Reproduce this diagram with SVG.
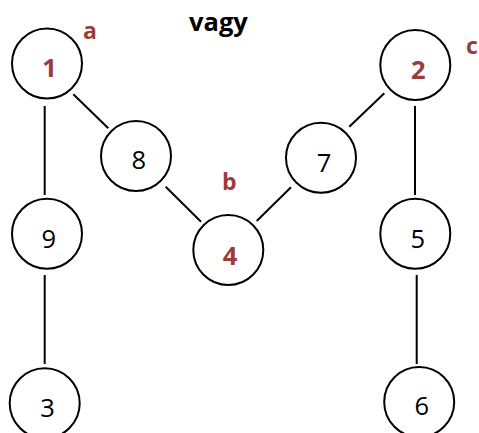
<svg xmlns="http://www.w3.org/2000/svg" width="479" height="433" viewBox="0 0 479 433">
<style>
.n{fill:#fff;stroke:#000;stroke-width:2}
.e{stroke:#000;stroke-width:2;fill:none}
.t{font-family:"Open Sans","Liberation Sans",sans-serif;font-size:25.5px;text-anchor:middle;fill:#000}
.r{font-family:"Open Sans","Liberation Sans",sans-serif;font-size:25.5px;font-weight:bold;text-anchor:middle;fill:#9C3B3B}
.l{font-family:"Open Sans","Liberation Sans",sans-serif;font-size:23px;font-weight:bold;fill:#9C3B3B}
.h{font-family:"Open Sans","Liberation Sans",sans-serif;font-size:25.5px;font-weight:bold;fill:#000}
</style>
<rect width="479" height="433" fill="#fff"/>
<g id="connectors">
<line class="e" x1="73.3" y1="94.3" x2="108.3" y2="128.3"/>
<line class="e" x1="44.7" y1="106" x2="44.7" y2="195"/>
<line class="e" x1="44.7" y1="275" x2="44.7" y2="364"/>
<line class="e" x1="165.7" y1="186.7" x2="201" y2="221.7"/>
<line class="e" x1="291" y1="187.3" x2="256.7" y2="221"/>
<line class="e" x1="349.3" y1="126.7" x2="384.3" y2="93.3"/>
<line class="e" x1="415" y1="106" x2="415" y2="195"/>
<line class="e" x1="416.7" y1="275" x2="416.7" y2="364"/>
</g>
<g id="node-1"><circle class="n" cx="47" cy="63.5" r="35"/><text class="r" x="49.5" y="77.3">1</text></g>
<g id="node-8"><circle class="n" cx="136" cy="156" r="35"/><text class="t" x="138.7" y="168.7">8</text></g>
<g id="node-9"><circle class="n" cx="47" cy="233.8" r="35"/><text class="t" x="48.8" y="248.3">9</text></g>
<g id="node-3"><circle class="n" cx="44.7" cy="403.3" r="35"/><text class="t" x="47.5" y="416.7">3</text></g>
<g id="node-4"><circle class="n" cx="228.3" cy="250" r="35"/><text class="r" x="230" y="265">4</text></g>
<g id="node-7"><circle class="n" cx="321" cy="157.8" r="35"/><text class="t" x="324" y="171.7">7</text></g>
<g id="node-2"><circle class="n" cx="415.3" cy="65" r="35"/><text class="r" x="418.3" y="79">2</text></g>
<g id="node-5"><circle class="n" cx="415.3" cy="233.8" r="35"/><text class="t" x="417.8" y="247.7">5</text></g>
<g id="node-6"><circle class="n" cx="419.2" cy="402" r="35"/><text class="t" x="421.7" y="415">6</text></g>
<g id="labels">
<text class="h" x="189" y="31">vagy</text>
<text class="l" x="83" y="39.3">a</text>
<text class="l" x="466" y="54.3">c</text>
<text class="l" x="222" y="190">b</text>
</g>
</svg>
